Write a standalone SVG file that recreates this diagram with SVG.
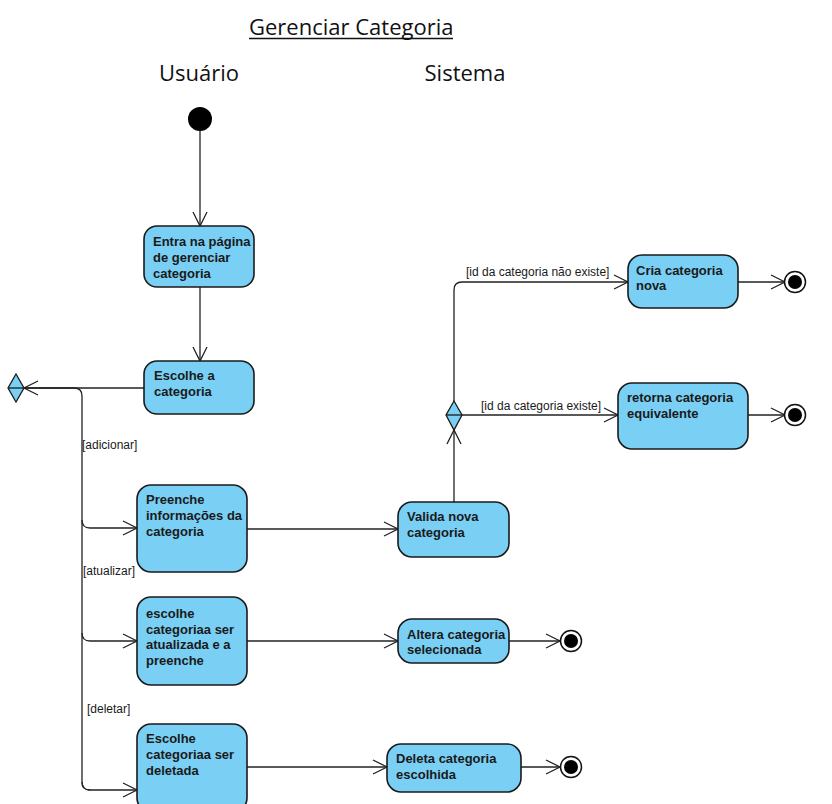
<svg xmlns="http://www.w3.org/2000/svg" width="832" height="804" viewBox="0 0 832 804">
<style>
.bg{fill:#ffffff}
.act{fill:#79cff4;stroke:#1a1a1a;stroke-width:1.6}
.dec{fill:#79cff4;stroke:#1a1a1a;stroke-width:1.3}
.t{font-family:"Liberation Sans",Arial,sans-serif;font-size:13px;font-weight:bold;fill:#1a1a1a}
.g{font-family:"Liberation Sans",Arial,sans-serif;font-size:12px;fill:#1a1a1a}
.h{font-family:"Open Sans","Noto Sans",sans-serif;font-size:22px;fill:#111111}
.e{fill:none;stroke:#222222;stroke-width:1.3}
.ea{fill:none;stroke:#222222;stroke-width:1.3;marker-end:url(#arr)}
.fo{fill:#ffffff;stroke:#111111;stroke-width:1.5}
.fi{fill:#000000}
</style>
<defs>
<marker id="arr" markerUnits="userSpaceOnUse" markerWidth="20" markerHeight="20" viewBox="-16 -10 20 20" refX="0" refY="0" orient="auto">
<path d="M -14 -7 L 0 0 L -14 7" fill="none" stroke="#222222" stroke-width="1.3"/>
</marker>
</defs>
<rect class="bg" x="0" y="0" width="832" height="804"/>

<g id="title">
<text class="h" x="249" y="35">Gerenciar Categoria</text>
<line x1="249" y1="38.5" x2="453" y2="38.5" stroke="#111111" stroke-width="1.3"/>
</g>
<g id="lane-usuario"><text class="h" x="199" y="81" text-anchor="middle">Usuário</text></g>
<g id="lane-sistema"><text class="h" x="465" y="81" text-anchor="middle">Sistema</text></g>

<g id="connectors">
<path class="ea" d="M 200 131 L 200 226"/>
<path class="ea" d="M 200 287 L 200 361"/>
<path class="ea" d="M 144 388 L 24 388"/>
<path class="e" d="M 8 388 L 74 388 Q 82 388 82 396 L 82 782 Q 82 790 90 790"/>
<path class="ea" d="M 82 520 Q 82 528 90 528 L 137 528"/>
<path class="ea" d="M 82 633 Q 82 641 90 641 L 137 641"/>
<path class="ea" d="M 82 782 Q 82 790 90 790 L 137 790"/>
<path class="ea" d="M 247 529 L 398 529"/>
<path class="ea" d="M 247 641 L 398 641"/>
<path class="ea" d="M 247 767 L 387 767"/>
<path class="ea" d="M 509 641 L 560 641"/>
<path class="ea" d="M 521 767 L 560 767"/>
<path class="ea" d="M 454 502 L 454 430"/>
<path class="ea" d="M 454 401 L 454 290 Q 454 282 462 282 L 628 282"/>
<path class="ea" d="M 462 415 L 618 415"/>
<path class="ea" d="M 738 282 L 785 282"/>
<path class="ea" d="M 748 415 L 785 415"/>
<text class="g" x="82" y="449">[adicionar]</text>
<text class="g" x="83" y="575">[atualizar]</text>
<text class="g" x="87" y="713">[deletar]</text>
<text class="g" x="466" y="276">[id da categoria não existe]</text>
<text class="g" x="481" y="410">[id da categoria existe]</text>
</g>

<g id="start"><circle class="fi" cx="200" cy="119" r="12"/></g>

<g id="n-entra">
<rect class="act" x="144" y="226" width="110" height="61" rx="13"/>
<text class="t" x="153" y="246">Entra na página</text>
<text class="t" x="153" y="262">de gerenciar</text>
<text class="t" x="153" y="278">categoria</text>
</g>

<g id="n-escolhe">
<rect class="act" x="144" y="361" width="110" height="53" rx="13"/>
<text class="t" x="154" y="380">Escolhe a</text>
<text class="t" x="154" y="396">categoria</text>
</g>

<g id="d-user">
<path class="dec" d="M 16 374 L 24 388 L 16 402 L 8 388 Z"/>
<line x1="8" y1="388" x2="24" y2="388" stroke="#1a1a1a" stroke-width="1.3"/>
</g>

<g id="n-preenche">
<rect class="act" x="137" y="485" width="110" height="87" rx="14"/>
<text class="t" x="146" y="504">Preenche</text>
<text class="t" x="146" y="520">informações da</text>
<text class="t" x="146" y="536">categoria</text>
</g>

<g id="n-atualiza">
<rect class="act" x="137" y="597" width="110" height="88" rx="14"/>
<text class="t" x="146" y="618">escolhe</text>
<text class="t" x="146" y="634">categoriaa ser</text>
<text class="t" x="146" y="649">atualizada e a</text>
<text class="t" x="146" y="665">preenche</text>
</g>

<g id="n-deleta-escolhe">
<rect class="act" x="137" y="724" width="110" height="88" rx="14"/>
<text class="t" x="146" y="743">Escolhe</text>
<text class="t" x="146" y="759">categoriaa ser</text>
<text class="t" x="146" y="775">deletada</text>
</g>

<g id="n-valida">
<rect class="act" x="398" y="502" width="111" height="55" rx="14"/>
<text class="t" x="407" y="521">Valida nova</text>
<text class="t" x="407" y="537">categoria</text>
</g>

<g id="n-altera">
<rect class="act" x="398" y="619" width="111" height="44" rx="14"/>
<text class="t" x="407" y="639">Altera categoria</text>
<text class="t" x="407" y="654">selecionada</text>
</g>

<g id="n-deleta">
<rect class="act" x="387" y="744" width="134" height="48" rx="14"/>
<text class="t" x="396" y="763">Deleta categoria</text>
<text class="t" x="396" y="779">escolhida</text>
</g>

<g id="d-sys">
<path class="dec" d="M 454 401 L 462 415 L 454 430 L 446 415 Z"/>
<line x1="446" y1="415" x2="462" y2="415" stroke="#1a1a1a" stroke-width="1.3"/>
</g>

<g id="n-cria">
<rect class="act" x="628" y="255" width="110" height="53" rx="14"/>
<text class="t" x="636" y="275">Cria categoria</text>
<text class="t" x="636" y="290">nova</text>
</g>

<g id="n-retorna">
<rect class="act" x="618" y="383" width="130" height="66" rx="14"/>
<text class="t" x="627" y="402">retorna categoria</text>
<text class="t" x="627" y="418">equivalente</text>
</g>

<g id="end-cria"><circle class="fo" cx="795" cy="282" r="10.5"/><circle class="fi" cx="795" cy="282" r="7"/></g>
<g id="end-retorna"><circle class="fo" cx="795" cy="415" r="10.5"/><circle class="fi" cx="795" cy="415" r="7"/></g>
<g id="end-altera"><circle class="fo" cx="571" cy="641" r="10.5"/><circle class="fi" cx="571" cy="641" r="7"/></g>
<g id="end-deleta"><circle class="fo" cx="571" cy="767" r="10.5"/><circle class="fi" cx="571" cy="767" r="7"/></g>
</svg>
